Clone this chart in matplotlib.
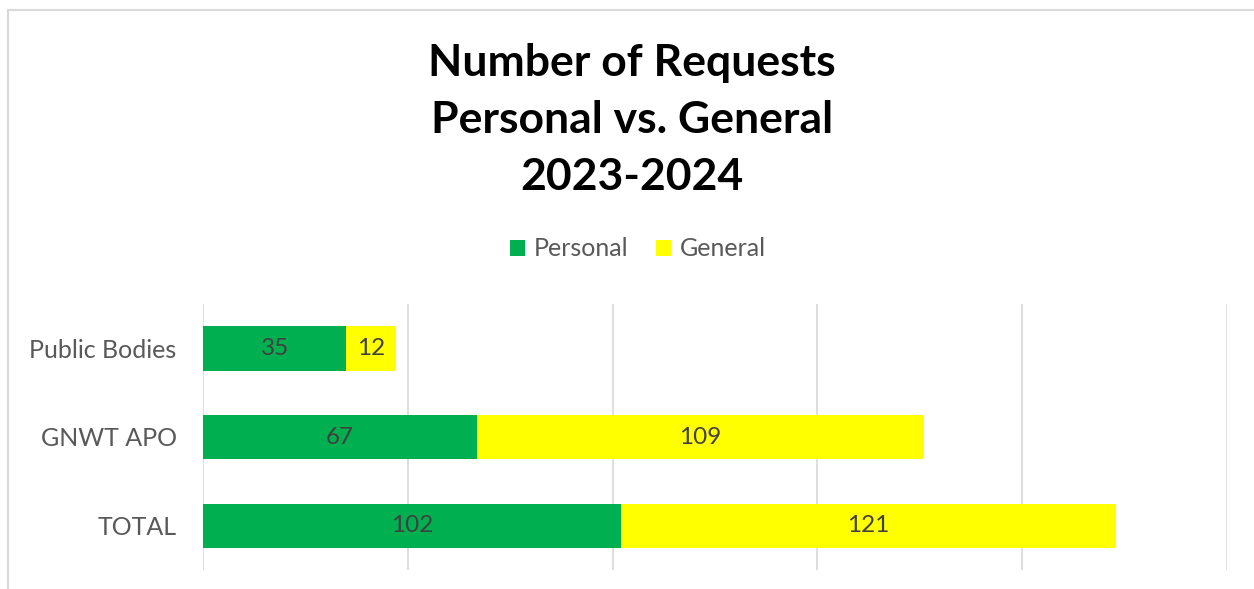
import matplotlib
matplotlib.use("Agg")
import matplotlib.pyplot as plt
from matplotlib.patches import Rectangle

categories = ["TOTAL", "GNWT APO", "Public Bodies"]
personal = [102, 67, 35]
general = [121, 109, 12]
series_names = ["Personal", "General"]
title_lines = ["Number of Requests", "Personal vs. General", "2023-2024"]

GREEN = "#00B050"
YELLOW = "#FFFF00"
TXT = "#595959"
LBL = "#404040"

plt.rcParams['font.family'] = ['Lato', 'DejaVu Sans']

fig = plt.figure(figsize=(12.54, 5.89), dpi=100)
ax = fig.add_axes([203/1254, 19/589, 1024/1254, 266/589])

y = list(range(len(categories)))
b1 = ax.barh(y, personal, height=0.5, color=GREEN, label=series_names[0], zorder=2)
b2 = ax.barh(y, general, left=personal, height=0.5, color=YELLOW, label=series_names[1], zorder=2)

for bars, vals, lefts in ((b1, personal, [0]*len(personal)), (b2, general, personal)):
    for yi, v, l in zip(y, vals, lefts):
        ax.text(l + v/2, yi, str(v), ha='center', va='center', fontsize=17.5, color=LBL, zorder=3)

ax.set_xlim(0, 250)
ax.set_ylim(-0.5, 2.5)
ax.set_xticks(range(0, 251, 50))
ax.set_xticklabels([])
ax.tick_params(axis='x', length=0)
ax.set_yticks(y)
ax.set_yticklabels(categories, fontsize=18, color=TXT)
ax.tick_params(axis='y', length=0, pad=19)
ax.grid(axis='x', color='#D9D9D9', linewidth=1.2, zorder=0)
for s in ax.spines.values():
    s.set_visible(False)

fig.text(632/1254, 1 - 120/589, "\n".join(title_lines), ha='center', va='center',
         fontsize=32, fontweight='bold', color='black', linespacing=1.53)

leg = fig.legend(handles=[b1, b2], labels=series_names, loc='center',
                 bbox_to_anchor=(638/1254, 1 - 249/589), ncol=2, frameon=False,
                 fontsize=18, handlelength=0.6, handleheight=0.6, handletextpad=0.35,
                 columnspacing=1.1)
for t in leg.get_texts():
    t.set_color(TXT)

# chart border (only top/left visible in the crop)
fig.patches.append(Rectangle((8/1254, -0.1), 1.2, 1 - 10/589 + 0.1, transform=fig.transFigure,
                             fill=False, edgecolor='#D9D9D9', linewidth=1.5))

fig.savefig("out.png", dpi=100)
